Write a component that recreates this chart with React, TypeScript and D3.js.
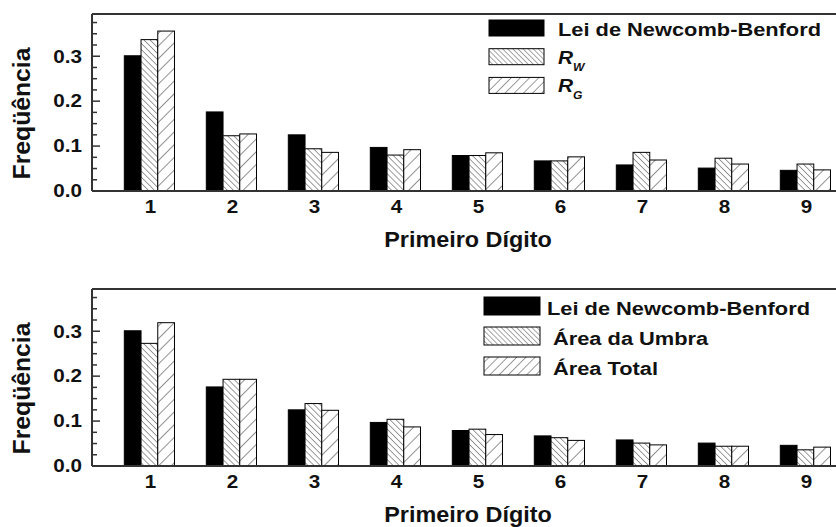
import React from "react";
import * as d3 from "d3";

const digits = [1, 2, 3, 4, 5, 6, 7, 8, 9];
const benford = [0.301, 0.176, 0.125, 0.097, 0.079, 0.067, 0.058, 0.051, 0.046];
const rw = [0.337, 0.123, 0.094, 0.080, 0.079, 0.067, 0.086, 0.073, 0.060];
const rg = [0.356, 0.127, 0.086, 0.092, 0.085, 0.076, 0.069, 0.060, 0.047];
const umbra = [0.273, 0.193, 0.139, 0.104, 0.082, 0.063, 0.051, 0.044, 0.036];
const total = [0.319, 0.193, 0.124, 0.087, 0.070, 0.057, 0.047, 0.044, 0.042];
const yTicks = [0, 0.1, 0.2, 0.3];
const xTitle = "Primeiro Dígito";
const yTitle = "Freqüência";
const legendTop = ["Lei de Newcomb-Benford", "R|W", "R|G"];
const legendBottom = ["Lei de Newcomb-Benford", "Área da Umbra", "Área Total"];

const W = 836;
const H = 527;
const LEFT = 92;
const UNIT = 82;
const FONT = "'Liberation Sans', Arial, Helvetica, sans-serif";
const INK = "#111";

const x = d3.scaleLinear().domain([0.3, 9.7]).range([LEFT, LEFT + 9.4 * UNIT]);
const barW = x(0.204) - x(0);

function T({ x, y, s = 1.18, size, anchor = "start", children, rotate = 0, italic = false }: any) {
  const tr = rotate ? `translate(${x},${y}) rotate(${rotate}) scale(${s},1)` : `translate(${x},${y}) scale(${s},1)`;
  return (
    <text
      transform={tr}
      fontFamily={FONT}
      fontWeight="bold"
      fontStyle={italic ? "italic" : "normal"}
      fontSize={size}
      textAnchor={anchor}
      fill={INK}
    >
      {children}
    </text>
  );
}

function Panel({ top, bottom, series, legend, legendCfg }: any) {
  const y = d3.scaleLinear().domain([0, 0.394]).range([bottom, top]);
  const minor = d3.range(0, 0.39, 0.025);
  const fills = ["#000", "url(#hatchW)", "url(#hatchG)"];
  const lfills = ["#000", "url(#lhatchW)", "url(#lhatchG)"];
  const right = x(9.7);
  return (
    <g>
      {series.map((vals: number[], k: number) =>
        digits.map((d, i) => (
          <rect
            key={`${k}-${i}`}
            x={x(d) + (k - 1.5) * barW}
            y={y(vals[i])}
            width={barW}
            height={y(0) - y(vals[i])}
            fill={fills[k]}
            stroke="#000"
            strokeWidth={1}
          />
        ))
      )}
      <line x1={LEFT} x2={right} y1={top} y2={top} stroke="#333" strokeWidth={2} />
      <line x1={LEFT} x2={right} y1={bottom} y2={bottom} stroke="#333" strokeWidth={2} />
      <line x1={LEFT} x2={LEFT} y1={top} y2={bottom} stroke="#333" strokeWidth={2} />
      {minor.map((t: number, i: number) => (
        <line key={i} x1={LEFT} x2={LEFT + (i % 4 === 0 ? 8 : 5)} y1={y(t)} y2={y(t)} stroke="#333" strokeWidth={1.5} />
      ))}
      {yTicks.map((t) => (
        <T key={t} x={LEFT - 10} y={y(t) + 6.3} size={17.5} anchor="end">
          {d3.format(".1f")(t)}
        </T>
      ))}
      {digits.map((d) => (
        <T key={d} x={x(d) + 1} y={bottom + 22} size={17.5} anchor="middle">
          {d}
        </T>
      ))}
      <T x={(LEFT + 836) / 2 + 4} y={bottom + 56} size={22.5} s={1.04} anchor="middle">
        {xTitle}
      </T>
      <T x={30} y={(top + bottom) / 2 + 11} size={24.5} s={1.01} anchor="middle" rotate={-90}>
        {yTitle}
      </T>
      {legend.map((lab: string, k: number) => {
        const c = legendCfg;
        const by = c.y0 + k * c.dy;
        const parts = lab.split("|");
        return (
          <g key={k}>
            <rect x={c.bx} y={by} width={c.bw} height={c.bh} fill={lfills[k]} stroke="#000" strokeWidth={1} />
            {parts.length === 1 ? (
              <T x={c.tx[k]} y={by + c.bh - 0.5} size={18.5}>
                {lab}
              </T>
            ) : (
              <g>
                <T x={c.tx[k]} y={by + c.bh - 1} size={19} s={1.1} italic>
                  {parts[0]}
                </T>
                <T x={c.tx[k] + 15} y={by + c.bh + 6} size={11} s={1.1} italic>
                  {parts[1]}
                </T>
              </g>
            )}
          </g>
        );
      })}
    </g>
  );
}

export default function App() {
  return (
    <svg
      width={W}
      height={H}
      viewBox={`0 0 ${W} ${H}`}
      style={{ position: "absolute", left: 0, top: 0, background: "#fff" }}
    >
      <defs>
        <pattern id="hatchW" patternUnits="userSpaceOnUse" width={4.3} height={4.3} patternTransform="rotate(-45)">
          <rect width={4.3} height={4.3} fill="#fff" />
          <line x1={0} y1={0} x2={0} y2={4.3} stroke="#222" strokeWidth={0.9} />
        </pattern>
        <pattern id="hatchG" patternUnits="userSpaceOnUse" width={9} height={9} patternTransform="rotate(45)">
          <rect width={9} height={9} fill="#fff" />
          <line x1={0} y1={0} x2={0} y2={9} stroke="#222" strokeWidth={1} />
        </pattern>
        <pattern id="lhatchW" patternUnits="userSpaceOnUse" width={3.6} height={3.6} patternTransform="rotate(-45)">
          <rect width={3.6} height={3.6} fill="#fff" />
          <line x1={0} y1={0} x2={0} y2={3.6} stroke="#222" strokeWidth={0.8} />
        </pattern>
        <pattern id="lhatchG" patternUnits="userSpaceOnUse" width={6.5} height={6.5} patternTransform="rotate(45)">
          <rect width={6.5} height={6.5} fill="#fff" />
          <line x1={0} y1={0} x2={0} y2={6.5} stroke="#222" strokeWidth={0.9} />
        </pattern>
      </defs>
      <rect width={W} height={H} fill="#fff" />
      <Panel
        top={14}
        bottom={191}
        series={[benford, rw, rg]}
        legend={legendTop}
        legendCfg={{ bx: 489, bw: 55, bh: 16, y0: 20, dy: 28.7, tx: [558, 558, 558] }}
      />
      <Panel
        top={289}
        bottom={466}
        series={[benford, umbra, total]}
        legend={legendBottom}
        legendCfg={{ bx: 484, bw: 56, bh: 18, y0: 297, dy: 30, tx: [547, 553, 553] }}
      />
    </svg>
  );
}
